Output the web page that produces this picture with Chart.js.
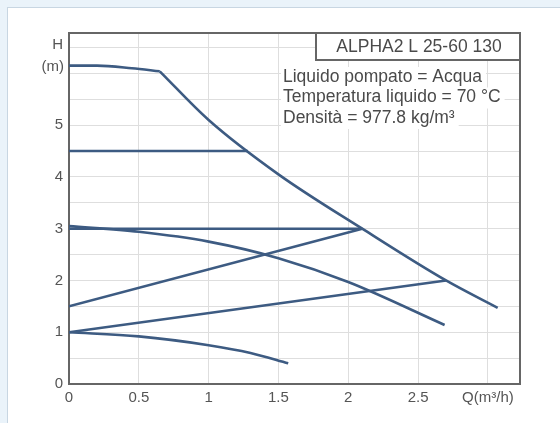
<!DOCTYPE html>
<html>
<head>
<meta charset="utf-8">
<script src="https://cdn.jsdelivr.net/npm/chart.js@4.4.1/dist/chart.umd.min.js"></script>
<style>
  html, body { margin: 0; padding: 0; background: #eaf3fa; }
  #panel { position: absolute; left: 7px; top: 7px; width: 552px; height: 415px;
           background: #fff; border-top: 1px solid #c8d6e2; border-left: 1px solid #c8d6e2; }
  #wrap { position: absolute; left: 0; top: 0; width: 552px; height: 415px; }
</style>
</head>
<body>
<div id="panel"><div id="wrap"><canvas id="chart"></canvas></div></div>
<script>
// axis ticks
const xTicks = [0, 0.5, 1, 1.5, 2, 2.5, 3];
const xTickLabels = ['0', '0.5', '1', '1.5', '2', '2.5', 'Q(m³/h)'];
const yTicks = [0, 0.5, 1, 1.5, 2, 2.5, 3, 3.5, 4, 4.5, 5, 5.5, 6, 6.5];
const yTickLabels = ['0', '', '1', '', '2', '', '3', '', '4', '', '5', '', '', ''];

// pump curves, Q in m3/h, H in m
// max curve: flat top part, then the falling part
const maxTopQ = [0, 0.2, 0.45, 0.65];
const maxTopH = [6.15, 6.15, 6.1, 6.04];
const maxDropQ = [0.65, 1.0, 1.5, 2.1, 2.7, 3.07];
const maxDropH = [6.04, 5.1, 4.05, 3.0, 2.0, 1.47];
const const45Q = [0, 1.28];
const const45H = [4.5, 4.5];
const const3Q = [0, 2.1];
const const3H = [3.0, 3.0];
const propHiQ = [0, 2.1];
const propHiH = [1.5, 3.0];
const propLoQ = [0, 2.7];
const propLoH = [1.0, 2.0];
const midQ = [0, 0.5, 1.0, 1.5, 2.0, 2.69];
const midH = [3.05, 2.94, 2.75, 2.43, 1.97, 1.14];
const lowQ = [0, 0.5, 1.0, 1.3, 1.57];
const lowH = [1.0, 0.92, 0.75, 0.6, 0.4];

const title = 'ALPHA2 L 25-60 130';
const infoLines = ['Liquido pompato = Acqua', 'Temperatura liquido = 70 °C', 'Densità = 977.8 kg/m³'];

const lineColor = '#3d5b82';
const fontFamily = '"Liberation Sans", Arial, sans-serif';

const pts = (q, h) => q.map((x, i) => ({ x: x, y: h[i] }));

function curve(q, h, smooth) {
  return {
    data: pts(q, h),
    showLine: true,
    borderColor: lineColor,
    borderWidth: 2.6,
    pointRadius: 0,
    cubicInterpolationMode: smooth ? 'monotone' : 'default',
    tension: 0
  };
}

// frame, title box, info text and axis name
const decorations = {
  id: 'decorations',
  beforeDatasetsDraw(chart) {
    const ctx = chart.ctx;
    const a = chart.chartArea;
    ctx.save();

    // info lines on white backgrounds
    ctx.font = '17.5px ' + fontFamily;
    ctx.textAlign = 'left';
    ctx.textBaseline = 'middle';
    const tx = a.left + 214;
    infoLines.forEach((t, i) => {
      const ty = a.top + 44 + i * 20.5;
      const w = ctx.measureText(t).width;
      ctx.fillStyle = '#fff';
      ctx.fillRect(tx - 2, ty - 10, w + 6, 21);
      ctx.fillStyle = '#4a4a4a';
      ctx.fillText(t, tx, ty);
    });

    // title box
    ctx.fillStyle = '#fff';
    ctx.fillRect(a.right - 204, a.top, 204, 27);
    ctx.strokeStyle = '#666';
    ctx.lineWidth = 2;
    ctx.strokeRect(a.right - 204, a.top, 204, 27);
    ctx.fillStyle = '#4a4a4a';
    ctx.textAlign = 'center';
    ctx.fillText(title, a.right - 101, a.top + 14);

    // plot frame
    ctx.strokeRect(a.left, a.top, a.right - a.left, a.bottom - a.top);

    // y axis name
    ctx.font = '15px ' + fontFamily;
    ctx.fillStyle = '#555';
    ctx.textAlign = 'right';
    ctx.fillText('H', a.left - 6, a.top + 12);
    ctx.fillText('(m)', a.left - 5, a.top + 34);
    ctx.restore();
  }
};

new Chart(document.getElementById('chart'), {
  type: 'scatter',
  data: {
    datasets: [
      curve(maxTopQ, maxTopH, true),
      curve(maxDropQ, maxDropH, true),
      curve(const45Q, const45H, false),
      curve(const3Q, const3H, false),
      curve(propHiQ, propHiH, false),
      curve(propLoQ, propLoH, false),
      curve(midQ, midH, true),
      curve(lowQ, lowH, true)
    ]
  },
  options: {
    responsive: true,
    maintainAspectRatio: false,
    animation: false,
    layout: { padding: { left: 0, top: 25, right: 40, bottom: 0 } },
    plugins: {
      legend: { display: false },
      tooltip: { enabled: false }
    },
    scales: {
      x: {
        type: 'linear',
        min: 0,
        max: 3.23,
        afterBuildTicks: (s) => { s.ticks = xTicks.map(v => ({ value: v })); },
        afterFit: (s) => { s.height = 39; },
        grid: { color: '#dedede', lineWidth: 1, drawTicks: false },
        border: { display: false },
        ticks: {
          padding: 5,
          color: '#555',
          font: { family: fontFamily, size: 15 },
          maxRotation: 0,
          autoSkip: false,
          callback: (v, i) => xTickLabels[i]
        }
      },
      y: {
        type: 'linear',
        min: 0,
        max: 6.78,
        afterBuildTicks: (s) => { s.ticks = yTicks.map(v => ({ value: v })); },
        afterFit: (s) => { s.width = 61; },
        grid: { color: '#dedede', lineWidth: 1, drawTicks: false },
        border: { display: false },
        ticks: {
          padding: 6,
          color: '#555',
          font: { family: fontFamily, size: 15 },
          autoSkip: false,
          callback: (v, i) => yTickLabels[i]
        }
      }
    }
  },
  plugins: [decorations]
});
</script>
</body>
</html>
